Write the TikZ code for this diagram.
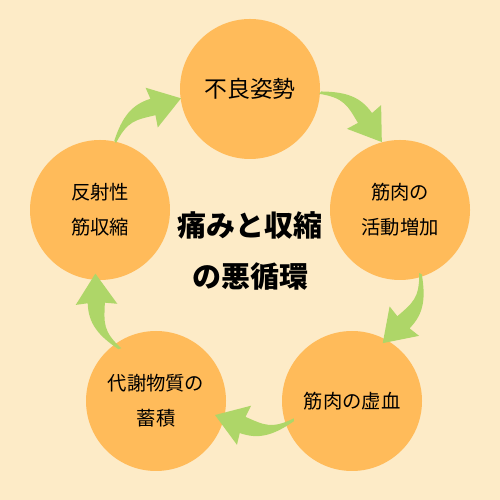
\documentclass[tikz,border=0pt]{standalone}
\usepackage{fontspec}
\usetikzlibrary{calc}
\newfontfamily\cjk{Noto Sans CJK JP}
\definecolor{bgcream}{RGB}{253,235,199}
\definecolor{stagefill}{RGB}{255,187,90}
\definecolor{arrowgreen}{RGB}{174,214,104}

\tikzset{
  stage/.style={circle,fill=stagefill,minimum size=2.8cm,inner sep=0pt,
    align=center,font=\cjk\fontsize{11}{19.8}\selectfont},
  bentarrow/.pic={
    \fill[arrowgreen,scale=0.02]
      (-39.5,-1.5) .. controls (-17.5,11) and (-10.1,7) .. (8.9,0)
      -- (4,-11.5) -- (39.5,0) -- (15.8,28.4) -- (13.7,16.5)
      .. controls (-5.5,22) and (-19.8,16.9) .. (-39.5,1.5) -- cycle;
  }
}
\newcommand{\linkarrow}[2]{%
  \path let \p1=($(#2)-(#1)$), \n1={atan2(\y1,\x1)} in
    ($(#1)!0.5!(#2)$) pic[rotate=\n1] {bentarrow};}

\begin{document}
\begin{tikzpicture}

    \useasboundingbox (0,0) rectangle (10,10);

    % 背景

    \fill[bgcream] (0,0) rectangle (10,10);

    % 五つの段階

    \node[stage,font=\cjk\fontsize{13}{20}\selectfont] (posture) at (5,8.22) {不良姿勢};
    \node[stage] (activity) at (8,5.8) {筋肉の\\活動増加};
    \node[stage] (ischemia) at (7.04,1.98) {筋肉の虚血};
    \node[stage] (metabolite) at (3.12,1.98) {代謝物質の\\蓄積};
    \node[stage] (reflex) at (2,5.8) {反射性\\筋収縮};

    % 中央の見出し

    \node[align=center,font=\cjk\bfseries\fontsize{16.5}{29.5}\selectfont]
      (title) at (5,4.98) {痛みと収縮\\の悪循環};

    % 循環の矢印

    \linkarrow{posture.-3}{activity.105}
    \linkarrow{activity.-75}{ischemia.62}
    \linkarrow{ischemia.195}{metabolite.-12}
    \linkarrow{metabolite.123}{reflex.-92}
    \linkarrow{reflex.77}{posture.188}

  \end{tikzpicture}
\end{document}
